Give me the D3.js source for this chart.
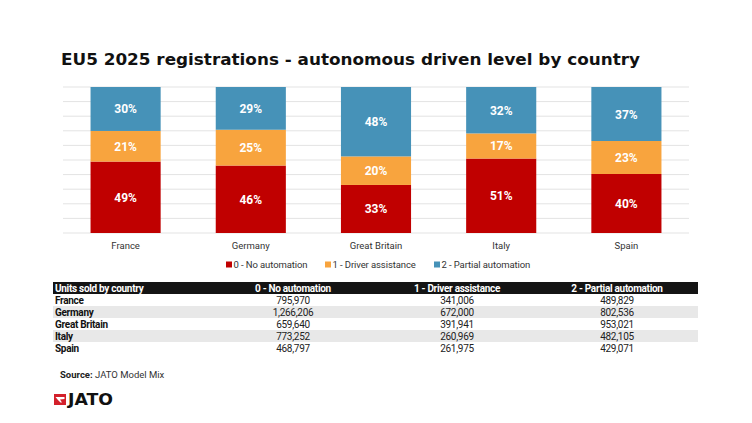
<!DOCTYPE html>
<html>
<head>
<meta charset="utf-8">
<script src="https://cdn.jsdelivr.net/npm/d3@7"></script>
<style>
  html, body { margin: 0; padding: 0; background: #fff; }
  svg { display: block; font-family: Roboto, "Liberation Sans", sans-serif; }
</style>
</head>
<body>
<svg id="chart" width="752" height="423"></svg>
<script>
const countries = ['France', 'Germany', 'Great Britain', 'Italy', 'Spain'];
const seriesNames = ['0 - No automation', '1 - Driver assistance', '2 - Partial automation'];
const noAutomation = [795970, 1266206, 659640, 773252, 468797];
const driverAssistance = [341006, 672000, 391941, 260969, 261975];
const partialAutomation = [489829, 802536, 953021, 482105, 429071];
const gridTicks = [0, 0.1, 0.2, 0.3, 0.4, 0.5, 0.6, 0.7, 0.8, 0.9, 1];

const colors = ['#c00000', '#f8a43e', '#4692b8'];

const optsPlot = {
  left: 63, right: 689, top: 87, bottom: 233,
  gridColor: '#e3e3e3'
};

const optsTable = {
  x1: 53, x2: 698, top: 282, rowH: 12,
  colCenters: [293, 457, 617],
  fontSize: 10, spacing: -0.3
};

const svg = d3.select('#chart');

// title
svg.append('text')
  .text('EU5 2025 registrations - autonomous driven level by country')
  .attr('x', 61).attr('y', 65)
  .attr('font-family', '"DejaVu Sans", sans-serif')
  .attr('font-weight', 'bold')
  .attr('font-size', 15)
  .attr('textLength', 579)
  .attr('lengthAdjust', 'spacingAndGlyphs')
  .attr('fill', '#111');

// data rows for stacking
const rows = countries.map((c, i) => ({
  country: c,
  [seriesNames[0]]: noAutomation[i],
  [seriesNames[1]]: driverAssistance[i],
  [seriesNames[2]]: partialAutomation[i]
}));

const stacked = d3.stack()
  .keys(seriesNames)
  .offset(d3.stackOffsetExpand)(rows);

const x = d3.scaleBand()
  .domain(countries)
  .range([optsPlot.left, optsPlot.right])
  .paddingInner(0.44)
  .paddingOuter(0.22);

const y = d3.scaleLinear()
  .domain([0, 1])
  .range([optsPlot.bottom, optsPlot.top]);

// gridlines
svg.append('g').attr('id', 'grid')
  .selectAll('line')
  .data(gridTicks)
  .join('line')
    .attr('x1', optsPlot.left)
    .attr('x2', optsPlot.right)
    .attr('y1', d => y(d))
    .attr('y2', d => y(d))
    .attr('stroke', optsPlot.gridColor)
    .attr('stroke-width', 1);

// bars
const layers = svg.append('g').attr('id', 'bars')
  .selectAll('g')
  .data(stacked)
  .join('g')
    .attr('fill', (d, i) => colors[i]);

layers.selectAll('rect')
  .data(d => d)
  .join('rect')
    .attr('x', d => x(d.data.country))
    .attr('width', x.bandwidth())
    .attr('y', d => y(d[1]))
    .attr('height', d => y(d[0]) - y(d[1]));

// percent labels
const pct = d3.format('.0%');
layers.selectAll('text')
  .data(d => d)
  .join('text')
    .text(d => pct(d[1] - d[0]))
    .attr('x', d => x(d.data.country) + x.bandwidth() / 2)
    .attr('y', d => (y(d[0]) + y(d[1])) / 2 + 4.5)
    .attr('text-anchor', 'middle')
    .attr('font-size', 12)
    .attr('font-weight', 'bold')
    .attr('fill', '#fff');

// x axis labels
svg.append('g').attr('id', 'axis-x')
  .attr('transform', `translate(0 ${optsPlot.bottom})`)
  .call(d3.axisBottom(x).tickSize(0).tickPadding(9))
  .call(g => g.select('.domain').remove())
  .selectAll('text')
    .attr('font-size', 9.5)
    .attr('font-family', 'Roboto, sans-serif')
    .attr('fill', '#333');

// legend
const legendX = [226, 325, 434];
const legend = svg.append('g').attr('id', 'legend')
  .selectAll('g')
  .data(seriesNames)
  .join('g')
    .attr('transform', (d, i) => `translate(${legendX[i]} 261.5)`);

legend.append('rect')
  .attr('width', 6).attr('height', 6)
  .attr('fill', (d, i) => colors[i]);

legend.append('text')
  .text(d => d)
  .attr('x', 7.5).attr('y', 6.5)
  .attr('font-size', 9.5)
  .attr('letter-spacing', -0.1)
  .attr('fill', '#333');

// table
const tbl = svg.append('g').attr('id', 'table')
  .attr('letter-spacing', optsTable.spacing);

tbl.append('rect')
  .attr('x', optsTable.x1).attr('y', optsTable.top)
  .attr('width', optsTable.x2 - optsTable.x1).attr('height', optsTable.rowH)
  .attr('fill', '#141414');

tbl.append('text')
  .text('Units sold by country')
  .attr('x', 55).attr('y', optsTable.top + 9.5)
  .attr('font-size', optsTable.fontSize)
  .attr('font-weight', 'bold')
  .attr('fill', '#fff');

tbl.selectAll('text.head')
  .data(seriesNames)
  .join('text')
    .attr('class', 'head')
    .text(d => d)
    .attr('x', (d, i) => optsTable.colCenters[i])
    .attr('y', optsTable.top + 9.5)
    .attr('text-anchor', 'middle')
    .attr('font-size', optsTable.fontSize)
    .attr('font-weight', 'bold')
    .attr('fill', '#fff');

const rowY = i => optsTable.top + optsTable.rowH * (i + 1);

tbl.selectAll('rect.band')
  .data(countries)
  .join('rect')
    .attr('class', 'band')
    .attr('x', optsTable.x1)
    .attr('y', (d, i) => rowY(i))
    .attr('width', optsTable.x2 - optsTable.x1)
    .attr('height', optsTable.rowH)
    .attr('fill', (d, i) => i % 2 ? '#e8e8e8' : '#fff');

tbl.selectAll('text.country')
  .data(countries)
  .join('text')
    .attr('class', 'country')
    .text(d => d)
    .attr('x', 55)
    .attr('y', (d, i) => rowY(i) + 9.5)
    .attr('font-size', optsTable.fontSize)
    .attr('font-weight', 'bold')
    .attr('fill', '#111');

const fmt = d3.format(',');
[noAutomation, driverAssistance, partialAutomation].forEach((vals, c) => {
  tbl.append('g')
    .selectAll('text')
    .data(vals)
    .join('text')
      .text(d => fmt(d))
      .attr('x', optsTable.colCenters[c])
      .attr('y', (d, i) => rowY(i) + 9.5)
      .attr('text-anchor', 'middle')
      .attr('font-size', optsTable.fontSize)
      .attr('fill', '#222');
});

// source
const src = svg.append('text')
  .attr('x', 60).attr('y', 378)
  .attr('font-size', 9.5)
  .attr('fill', '#333');
src.append('tspan').text('Source: ').attr('font-weight', 'bold').attr('fill', '#222');
src.append('tspan').text('JATO Model Mix');

// logo
const logo = svg.append('g').attr('id', 'logo').attr('transform', 'translate(54 394)');
logo.append('rect').attr('width', 12).attr('height', 11).attr('fill', '#d3202b');
logo.append('path')
  .attr('d', 'M1.5 3 L10.5 3 L10.5 5 L6 5.5 L8 8.5 L6.5 8.5 L3.5 5.5 Z')
  .attr('fill', '#fff');
logo.append('text')
  .text('JATO')
  .attr('x', 14).attr('y', 11)
  .attr('font-family', '"DejaVu Sans", sans-serif')
  .attr('font-weight', 'bold')
  .attr('font-size', 15)
  .attr('textLength', 45)
  .attr('lengthAdjust', 'spacingAndGlyphs')
  .attr('fill', '#111');
</script>
</body>
</html>
